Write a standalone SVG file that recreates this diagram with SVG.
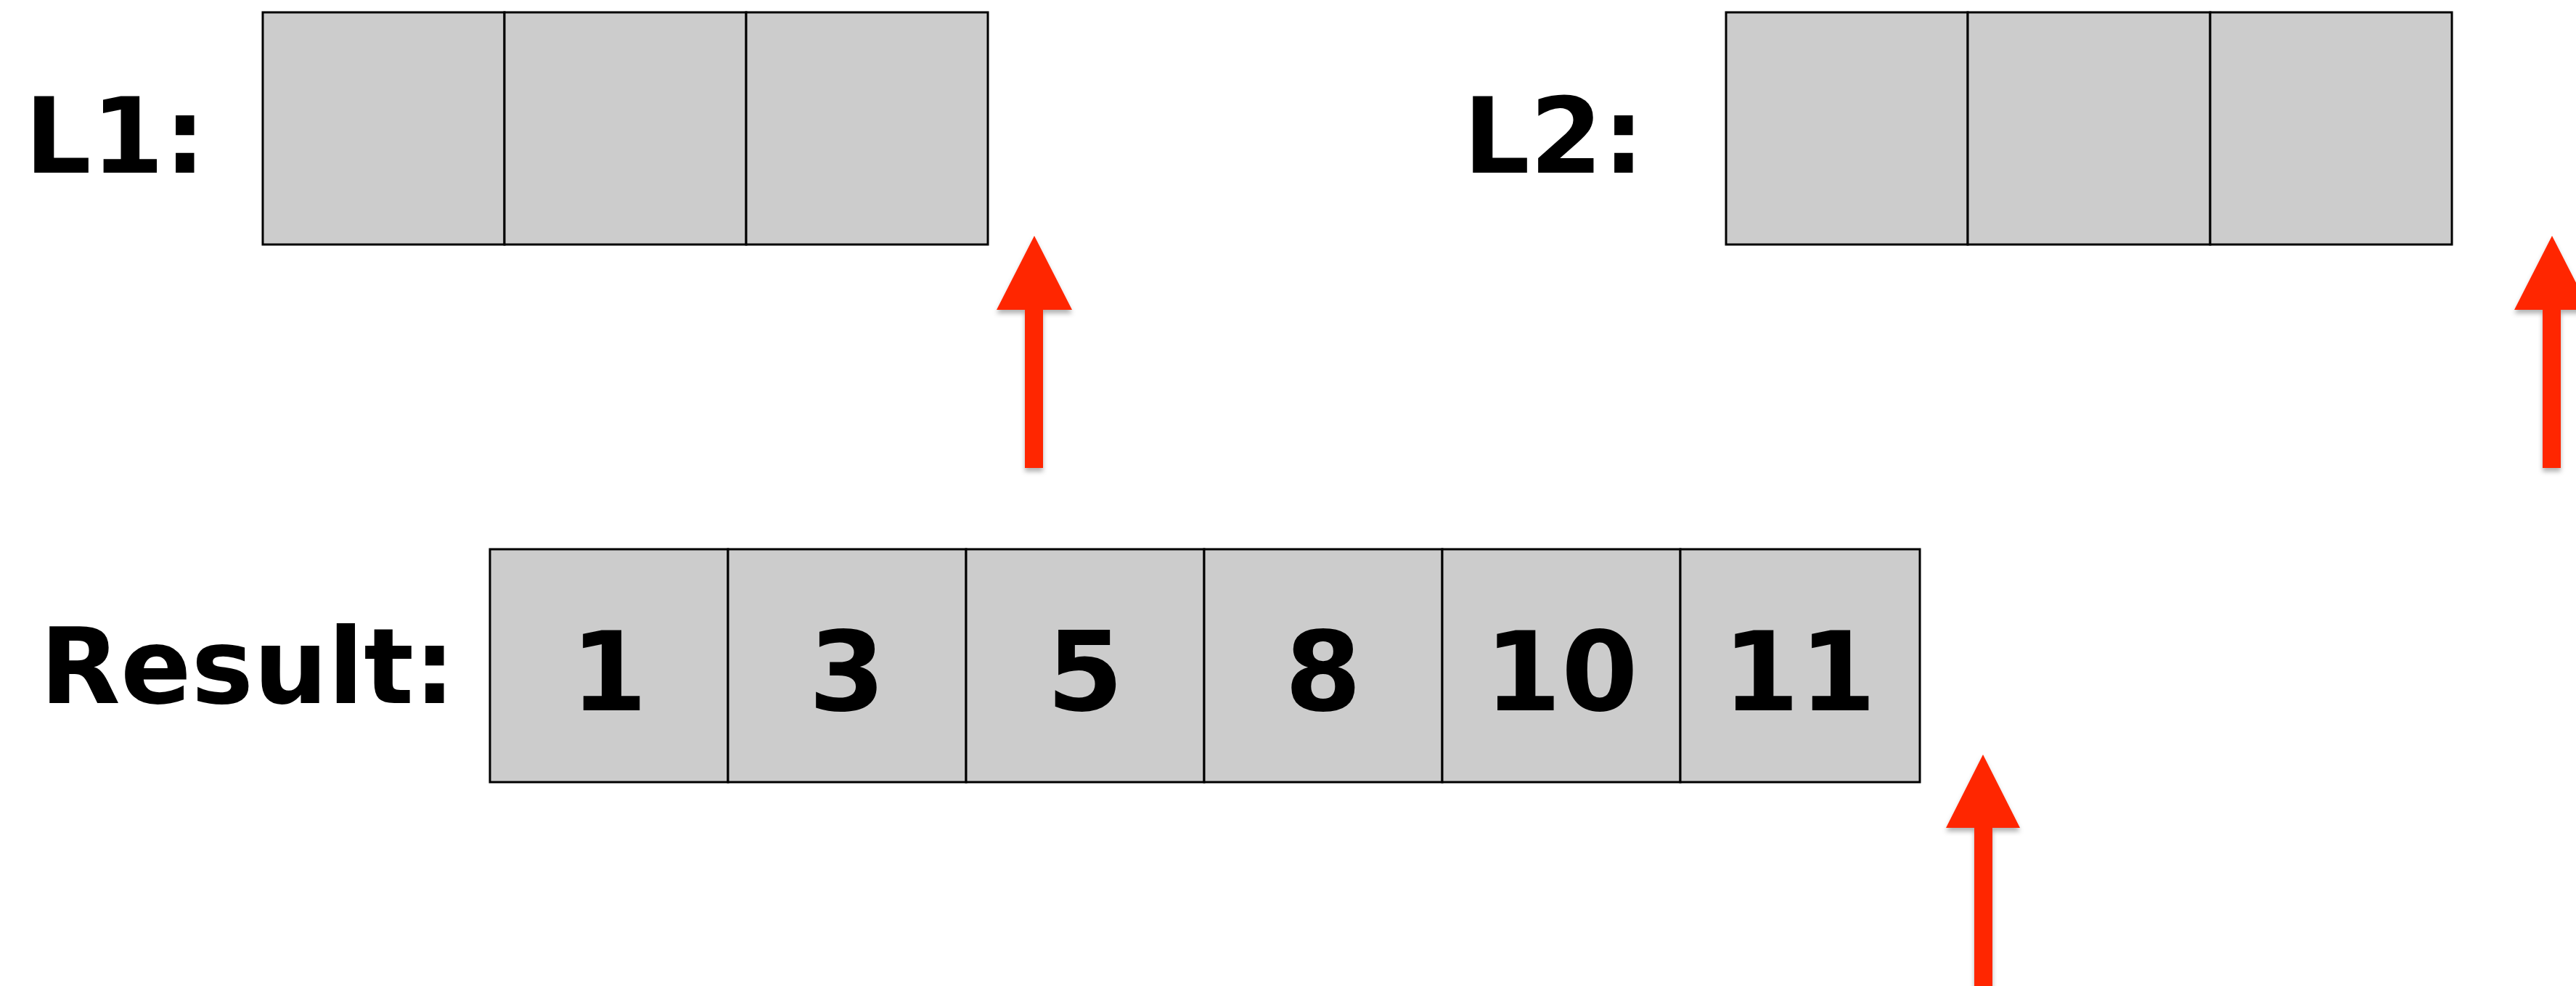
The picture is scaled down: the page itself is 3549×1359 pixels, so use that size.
<svg xmlns="http://www.w3.org/2000/svg" width="3549" height="1359" viewBox="0 0 3549 1359">
<style>
.cell{fill:#cccccc;stroke:#000;stroke-width:3}
.lbl{font-family:"DejaVu Sans",Verdana,sans-serif;font-weight:bold;font-size:144px;fill:#000}
.num{font-family:"DejaVu Sans",Verdana,sans-serif;font-weight:bold;font-size:152px;fill:#000;text-anchor:middle}
.arrow{fill:#ff2600}
</style>
<defs>
<filter id="sh" x="-50%" y="-20%" width="200%" height="140%">
<feDropShadow dx="0" dy="5" stdDeviation="3" flood-color="#000" flood-opacity="0.3"/>
</filter>
</defs>
<rect width="3549" height="1359" fill="#fff"/>
<g id="L1">
<text class="lbl" x="34" y="238">L1:</text>
<rect class="cell" x="362" y="17" width="333" height="320"/>
<rect class="cell" x="695" y="17" width="333" height="320"/>
<rect class="cell" x="1028" y="17" width="333" height="320"/>
</g>
<g id="L2">
<text class="lbl" x="2016" y="238">L2:</text>
<rect class="cell" x="2378" y="17" width="333" height="320"/>
<rect class="cell" x="2711" y="17" width="334" height="320"/>
<rect class="cell" x="3045" y="17" width="333" height="320"/>
</g>
<g id="Result">
<text class="lbl" x="55" y="969">Result:</text>
<rect class="cell" x="675" y="757" width="328" height="321"/>
<rect class="cell" x="1003" y="757" width="328" height="321"/>
<rect class="cell" x="1331" y="757" width="328" height="321"/>
<rect class="cell" x="1659" y="757" width="328" height="321"/>
<rect class="cell" x="1987" y="757" width="328" height="321"/>
<rect class="cell" x="2315" y="757" width="330" height="321"/>
<text class="num" x="839" y="979">1</text>
<text class="num" x="1167" y="979">3</text>
<text class="num" x="1495" y="979">5</text>
<text class="num" x="1823" y="979">8</text>
<text class="num" x="2151" y="979">10</text>
<text class="num" x="2479" y="979">11</text>
</g>
<g id="connectors" filter="url(#sh)">
<path class="arrow" d="M1425,325 L1477,427 L1437,427 L1437,645 L1412,645 L1412,427 L1373,427 Z"/>
<path class="arrow" d="M3516,325 L3568,427 L3528,427 L3528,645 L3503,645 L3503,427 L3464,427 Z"/>
<path class="arrow" d="M2732,1040 L2783,1141 L2745,1141 L2745,1370 L2720,1370 L2720,1141 L2681,1141 Z"/>
</g>
</svg>
